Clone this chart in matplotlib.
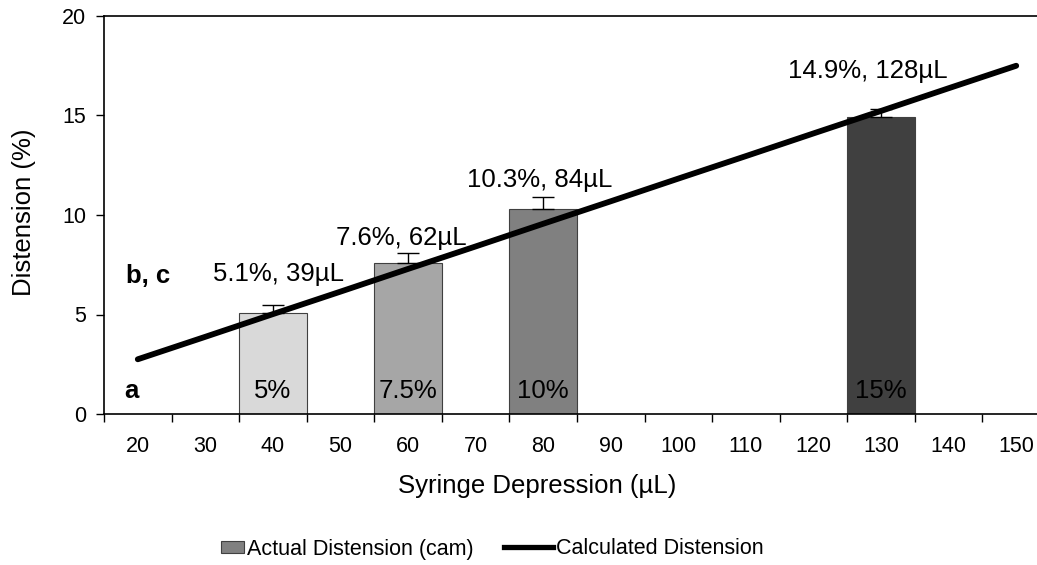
import matplotlib
matplotlib.use("Agg")
import matplotlib.pyplot as plt
from matplotlib.patches import Patch, Rectangle
from matplotlib.lines import Line2D
from matplotlib.legend_handler import HandlerPatch

plt.rcParams['font.family'] = ['Liberation Sans', 'DejaVu Sans']

# Syringe depression categories (µL)
volumes = [20, 30, 40, 50, 60, 70, 80, 90, 100, 110, 120, 130, 140, 150]

# Measured distension (camera) at the tested volumes
bar_volumes = [40, 60, 80, 130]
actual = [5.1, 7.6, 10.3, 14.9]
actual_err = [0.4, 0.5, 0.6, 0.45]
bar_colors = ['#d9d9d9', '#a6a6a6', '#808080', '#404040']
target_labels = ['5%', '7.5%', '10%', '15%']
value_labels = ['5.1%, 39µL', '7.6%, 62µL', '10.3%, 84µL', '14.9%, 128µL']

# Calculated distension for every category
calculated = [2.75, 3.88, 5.02, 6.15, 7.29, 8.42, 9.56, 10.69,
              11.83, 12.96, 14.10, 15.23, 16.37, 17.50]

# Placement of the value labels (x shift in categories, baseline height)
label_dx = [0.08, -0.1, -0.05, -0.2]
label_y = [6.68, 8.5, 11.4, 16.9]

W, H = 1037, 565
fig = plt.figure(figsize=(W / 100, H / 100), dpi=100)
ax = fig.add_axes([104 / W, (H - 414) / H, 946 / W, 398 / H])

xpos = list(range(len(volumes)))
bar_x = [volumes.index(v) for v in bar_volumes]

ax.bar(bar_x, actual, width=1.0, color=bar_colors, edgecolor='#404040',
       linewidth=0.8, zorder=2,
       yerr=[[0] * len(actual_err), actual_err], capsize=8,
       error_kw=dict(elinewidth=1.0, capthick=1.0, ecolor='black'))

ax.plot(xpos, calculated, color='black', linewidth=4.2,
        solid_capstyle='round', zorder=3)

big = 18.5
tick_fs = 15.5
for x, t, lab, dx, ly in zip(bar_x, target_labels, value_labels, label_dx, label_y):
    ax.text(x, 0.8, t, ha='center', va='baseline', fontsize=big, zorder=4)
    ax.text(x + dx, ly, lab, ha='center', va='baseline', fontsize=big, zorder=4)

ax.text(-0.18, 6.6, 'b, c', fontsize=big, fontweight='bold', va='baseline')
ax.text(-0.2, 0.8, 'a', fontsize=big, fontweight='bold', va='baseline')

ax.set_xlim(-0.5, len(volumes) - 0.5)
ax.set_ylim(0, 20)
ax.set_yticks([0, 5, 10, 15, 20])

# Category boundaries carry tick marks, centres carry labels
ax.set_xticks([i - 0.5 for i in range(len(volumes) + 1)])
ax.set_xticklabels([])
ax.set_xticks(xpos, minor=True)
ax.set_xticklabels([str(v) for v in volumes], minor=True)
ax.tick_params(axis='x', which='major', direction='out', length=6, width=1)
ax.tick_params(axis='x', which='minor', length=0, pad=15.5, labelsize=tick_fs)
ax.tick_params(axis='y', direction='out', length=6, width=1,
               labelsize=tick_fs, pad=7)

for s in ax.spines.values():
    s.set_linewidth(1.2)
    s.set_color('black')

ax.set_xlabel('Syringe Depression (µL)', fontsize=big)
ax.xaxis.set_label_coords((537 - 104) / 946, -(486 - 414) / 398)
ax.xaxis.label.set_va('center')
ax.set_ylabel('Distension (%)', fontsize=big)
ax.yaxis.set_label_coords(-(104 - 24) / 946, (414 - 212) / 398)
ax.yaxis.label.set_va('center')


def small_box(legend, orig_handle, xdescent, ydescent, width, height, fontsize):
    w = 0.46 * width
    h = 0.75 * height
    return Rectangle((width - w - xdescent, (height - h) / 2 - ydescent), w, h)


handles = [Patch(facecolor='#808080', edgecolor='#404040', linewidth=0.8),
           Line2D([0], [0], color='black', linewidth=3.8)]
fig.legend(handles, ['Actual Distension (cam)', 'Calculated Distension'],
           loc='center', bbox_to_anchor=(479 / W, 1 - 549 / H), ncol=2,
           frameon=False, fontsize=tick_fs, handlelength=2.3,
           handletextpad=0.15, columnspacing=1.4,
           handler_map={Patch: HandlerPatch(patch_func=small_box)})

fig.savefig('out.png', dpi=100)
